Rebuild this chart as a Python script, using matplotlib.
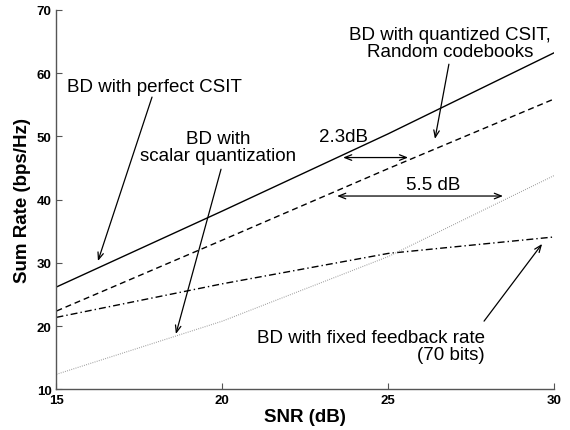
import matplotlib
matplotlib.use("Agg")
import matplotlib.pyplot as plt

snr = [15, 20, 25, 30]
perfect_csit = [26.2, 38.2, 50.4, 63.2]
quantized_csit = [22.4, 33.6, 44.9, 55.9]
fixed_feedback = [21.4, 26.7, 31.5, 34.1]
scalar_quant = [12.4, 20.8, 31.0, 43.8]

xticks = [15, 20, 25, 30]
yticks = [10, 20, 30, 40, 50, 60, 70]

plt.rcParams['font.family'] = ['Liberation Sans', 'DejaVu Sans']

fig = plt.figure(figsize=(5.7, 4.31), dpi=100)
ax = fig.add_axes([0.0991, 0.094, 0.8729, 0.881])

ax.plot(snr, perfect_csit, color='black', lw=1.0)
ax.plot(snr, quantized_csit, color='black', lw=1.0, dashes=(4.3, 2.8))
ax.plot(snr, fixed_feedback, color='black', lw=1.0, dashes=(5, 2.2, 1, 2.2))
ax.plot(snr, scalar_quant, color='#999999', lw=0.8, dashes=(0.8, 1.2))

ax.set_xlim(15, 30)
ax.set_ylim(10, 70)
ax.set_xticks(xticks)
ax.set_yticks(yticks)
ax.set_xticklabels([str(t) for t in xticks], fontweight='bold', fontsize=9.5)
ax.set_yticklabels([str(t) for t in yticks], fontweight='bold', fontsize=9.5)
ax.tick_params(direction='in', length=4, width=0.8, color='#555555', pad=3.5)
for s in ['top', 'right']:
    ax.spines[s].set_visible(False)
for s in ['left', 'bottom']:
    ax.spines[s].set_color('#555555')
    ax.spines[s].set_linewidth(1.0)

ax.set_xlabel('SNR (dB)', fontweight='bold', fontsize=13.5, labelpad=1)
ax.set_ylabel('Sum Rate (bps/Hz)', fontweight='bold', fontsize=13.5, labelpad=4)

fs = 13.5
ap = dict(arrowstyle='->,head_length=0.5,head_width=0.2', color='black', lw=0.9,
          shrinkA=0, shrinkB=0)
ap2 = dict(arrowstyle='<->,head_length=0.5,head_width=0.2', color='black', lw=0.9,
           shrinkA=0, shrinkB=0)

ax.text(17.95, 57.95, 'BD with perfect CSIT', fontsize=fs, ha='center', va='center')
ax.annotate('', xy=(16.25, 30.3), xytext=(17.88, 56.2), arrowprops=ap)

ax.text(19.87, 48.3, 'BD with\nscalar quantization', fontsize=fs, ha='center',
        va='center', linespacing=1.0)
ax.annotate('', xy=(18.6, 18.77), xytext=(19.96, 44.8), arrowprops=ap)

ax.text(26.86, 64.7, 'BD with quantized CSIT,\nRandom codebooks', fontsize=fs,
        ha='center', va='center', linespacing=1.0)
ax.annotate('', xy=(26.41, 49.6), xytext=(26.83, 61.4), arrowprops=ap)

ax.text(23.64, 50.05, '2.3dB', fontsize=fs, ha='center', va='center')
ax.annotate('', xy=(25.6, 46.65), xytext=(23.64, 46.65), arrowprops=ap2)

ax.text(26.35, 42.46, '5.5 dB', fontsize=fs, ha='center', va='center')
ax.annotate('', xy=(28.46, 40.57), xytext=(23.46, 40.57), arrowprops=ap2)

ax.text(27.92, 16.95, 'BD with fixed feedback rate\n(70 bits)', fontsize=fs,
        ha='right', va='center', multialignment='right', linespacing=1.0)
ax.annotate('', xy=(29.64, 33.0), xytext=(27.89, 20.8), arrowprops=ap)

fig.savefig('out.png', dpi=100)
